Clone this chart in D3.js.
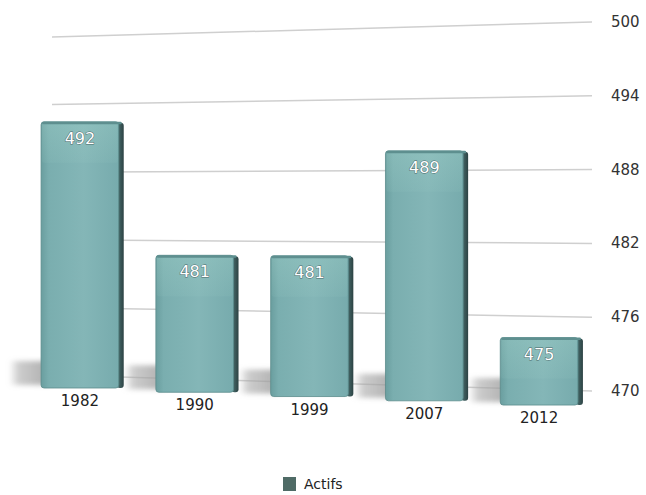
<!DOCTYPE html>
<html>
<head>
<meta charset="utf-8">
<script src="https://cdn.jsdelivr.net/npm/d3@7"></script>
<style>
  body { margin: 0; background: #fff; }
  text { font-family: "DejaVu Sans", Verdana, sans-serif; }
</style>
</head>
<body>
<svg id="chart" width="646" height="495"></svg>
<script>
var years = ["1982", "1990", "1999", "2007", "2012"];
var actifs = [492, 481, 481, 489, 475];
var ticks = [470, 476, 482, 488, 494, 500];
var seriesName = "Actifs";

var svg = d3.select("#chart");
var defs = svg.append("defs");

// perspective: the back wall (grid) is smaller on the left than on the right
var gx0 = 52, gx1 = 592;
var gridL = d3.scaleLinear().domain([470, 500]).range([375, 37]);
var gridR = d3.scaleLinear().domain([470, 500]).range([391, 22]);
function gy(v, x) {
  var t = (x - gx0) / (gx1 - gx0);
  return gridL(v) * (1 - t) + gridR(v) * t;
}

// front plane of the bars
var bx0 = 82, bx1 = 540;
var barL = d3.scaleLinear().domain([470, 500]).range([388, 25]);
var barR = d3.scaleLinear().domain([470, 500]).range([405, 0]);
function by(v, x) {
  var t = (x - bx0) / (bx1 - bx0);
  return barL(v) * (1 - t) + barR(v) * t;
}

var x = d3.scaleBand().domain(years).range([25, 599]).paddingInner(0.28).paddingOuter(0.14);

/* gradients */
var front = defs.append("linearGradient").attr("id", "front").attr("x1", 0).attr("x2", 1);
front.append("stop").attr("offset", "0%").attr("stop-color", "#6a9e9f");
front.append("stop").attr("offset", "10%").attr("stop-color", "#7aaeaf");
front.append("stop").attr("offset", "55%").attr("stop-color", "#84b6b7");
front.append("stop").attr("offset", "100%").attr("stop-color", "#77abad");

var side = defs.append("linearGradient").attr("id", "side").attr("x1", 0).attr("x2", 1);
side.append("stop").attr("offset", "0%").attr("stop-color", "#4d7373");
side.append("stop").attr("offset", "100%").attr("stop-color", "#2c4243");

var topGlow = defs.append("linearGradient").attr("id", "topGlow").attr("x1", 0).attr("x2", 0).attr("y1", 0).attr("y2", 1);
topGlow.append("stop").attr("offset", "0%").attr("stop-color", "#9fd0c8").attr("stop-opacity", 0.35);
topGlow.append("stop").attr("offset", "100%").attr("stop-color", "#9fd0c8").attr("stop-opacity", 0.1);

var shadowGrad = defs.append("linearGradient").attr("id", "shadowGrad").attr("x1", 0).attr("x2", 1);
shadowGrad.append("stop").attr("offset", "0%").attr("stop-color", "#aaa").attr("stop-opacity", 0);
shadowGrad.append("stop").attr("offset", "25%").attr("stop-color", "#aaa").attr("stop-opacity", 0.6);
shadowGrad.append("stop").attr("offset", "100%").attr("stop-color", "#999").attr("stop-opacity", 0.8);

defs.append("filter").attr("id", "blur").attr("x", "-20%").attr("y", "-50%").attr("width", "140%").attr("height", "200%")
  .append("feGaussianBlur").attr("stdDeviation", 2.5);

/* grid lines */
svg.append("g").selectAll("line")
  .data(ticks)
  .enter().append("line")
  .attr("x1", gx0).attr("x2", gx1)
  .attr("y1", function(d) { return gy(d, gx0); })
  .attr("y2", function(d) { return gy(d, gx1); })
  .attr("stroke", "#cfcfcf")
  .attr("stroke-width", 1.5);

/* right axis labels */
svg.append("g").selectAll("text")
  .data(ticks)
  .enter().append("text")
  .attr("x", 611)
  .attr("y", function(d) { return gy(d, gx1) + 5; })
  .attr("font-size", 15)
  .attr("fill", "#333")
  .text(function(d) { return d; });

/* floor shadows, cast to the left of each bar */
var data = years.map(function(y, i) { return { year: y, value: actifs[i] }; });

svg.append("g").selectAll("rect")
  .data(data)
  .enter().append("rect")
  .attr("x", function(d) { return x(d.year) - 32; })
  .attr("y", function(d) { var c = x(d.year) + x.bandwidth() / 2; return by(470, c) - 27; })
  .attr("width", 40)
  .attr("height", 24)
  .attr("fill", "url(#shadowGrad)")
  .attr("filter", "url(#blur)");

/* bars */
var bars = svg.append("g").selectAll("g")
  .data(data)
  .enter().append("g");

var sideW = 5;

bars.append("rect")
  .attr("x", function(d) { return x(d.year) + x.bandwidth() - sideW - 2; })
  .attr("y", function(d) { var c = x(d.year) + x.bandwidth() / 2; return by(d.value, c) + 1; })
  .attr("width", sideW + 2)
  .attr("height", function(d) { var c = x(d.year) + x.bandwidth() / 2; return by(470, c) - by(d.value, c) - 1; })
  .attr("rx", 3)
  .attr("fill", "url(#side)");

bars.append("rect")
  .attr("x", function(d) { return x(d.year); })
  .attr("y", function(d) { var c = x(d.year) + x.bandwidth() / 2; return by(d.value, c); })
  .attr("width", x.bandwidth() - sideW)
  .attr("height", function(d) { var c = x(d.year) + x.bandwidth() / 2; return by(470, c) - by(d.value, c); })
  .attr("rx", 3)
  .attr("fill", "url(#front)")
  .attr("stroke", "#5b8b8c")
  .attr("stroke-width", 0.8);

// lighter band at the top of each bar
bars.append("rect")
  .attr("x", function(d) { return x(d.year) + 1; })
  .attr("y", function(d) { var c = x(d.year) + x.bandwidth() / 2; return by(d.value, c) + 1; })
  .attr("width", x.bandwidth() - sideW - 2)
  .attr("height", function(d) { var c = x(d.year) + x.bandwidth() / 2; return Math.min(40, by(470, c) - by(d.value, c) - 2); })
  .attr("rx", 2)
  .attr("fill", "url(#topGlow)");

// thin top edge
bars.append("rect")
  .attr("x", function(d) { return x(d.year) + 1; })
  .attr("y", function(d) { var c = x(d.year) + x.bandwidth() / 2; return by(d.value, c); })
  .attr("width", x.bandwidth() - 3)
  .attr("height", 2.5)
  .attr("rx", 1.2)
  .attr("fill", "#5e8f8f");

/* value labels */
bars.append("text")
  .attr("x", function(d) { return x(d.year) + (x.bandwidth() - sideW) / 2; })
  .attr("y", function(d) { var c = x(d.year) + x.bandwidth() / 2; return by(d.value, c) + 22; })
  .attr("text-anchor", "middle")
  .attr("font-size", 16)
  .attr("fill", "#fff")
  .attr("stroke", "#4a6868")
  .attr("stroke-width", 0.9)
  .attr("paint-order", "stroke")
  .text(function(d) { return d.value; });

/* category labels */
bars.append("text")
  .attr("x", function(d) { return x(d.year) + (x.bandwidth() - sideW) / 2; })
  .attr("y", function(d) { var c = x(d.year) + x.bandwidth() / 2; return by(470, c) + 18; })
  .attr("text-anchor", "middle")
  .attr("font-size", 15)
  .attr("fill", "#222")
  .text(function(d) { return d.year; });

/* legend */
var legend = svg.append("g").attr("transform", "translate(283,477)");
legend.append("rect")
  .attr("width", 13).attr("height", 14)
  .attr("fill", "#4f6b66");
legend.append("text")
  .attr("x", 21).attr("y", 12)
  .attr("font-size", 14)
  .attr("fill", "#222")
  .text(seriesName);
</script>
</body>
</html>
